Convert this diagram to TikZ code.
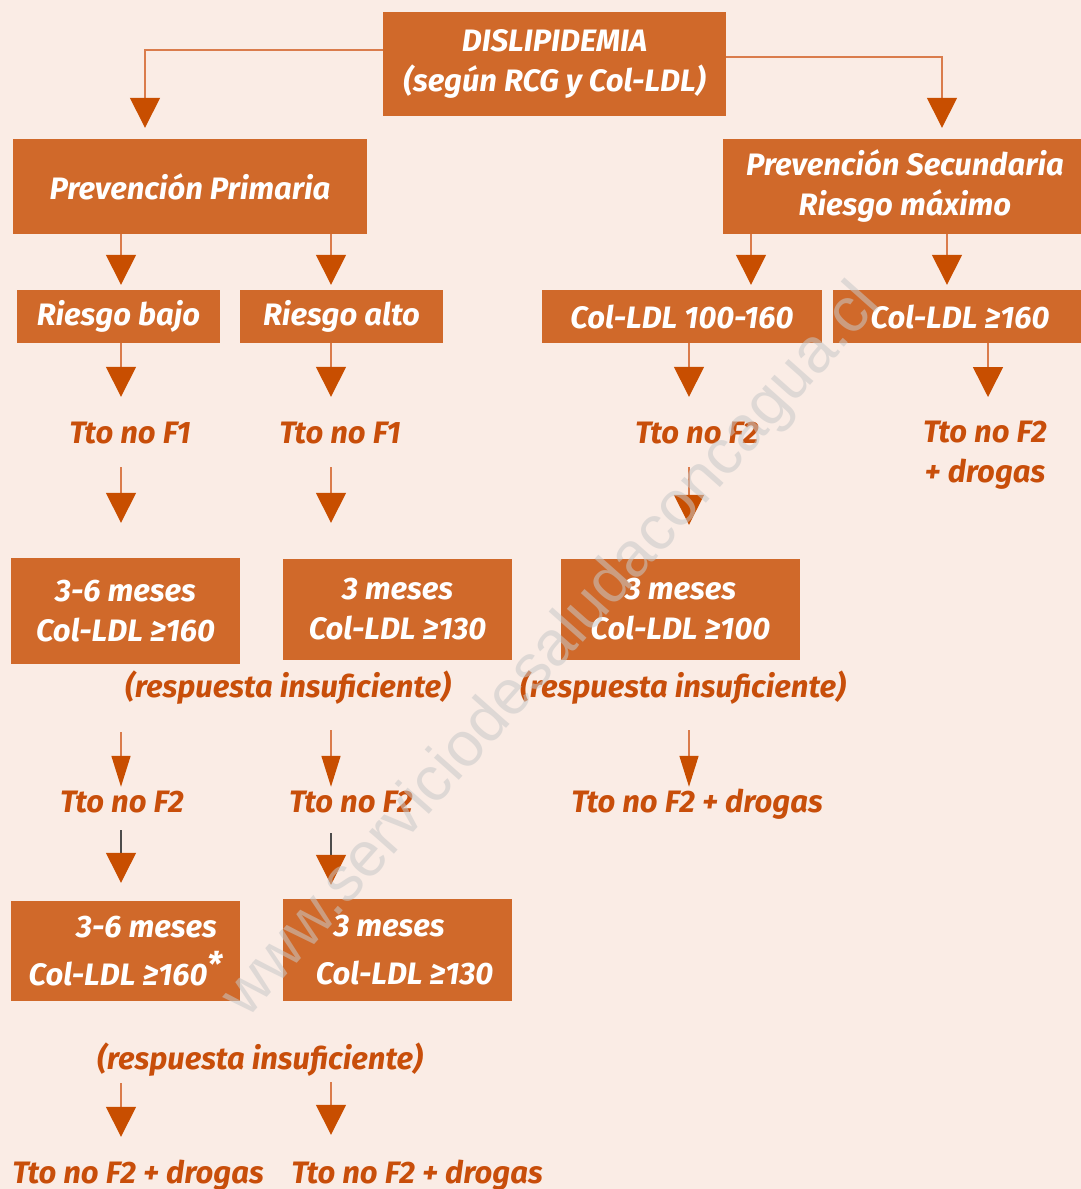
\documentclass[tikz,border=0pt]{standalone}
\usepackage{fontspec}
\setsansfont{Fira Sans}
\newfontfamily\marcafont{Liberation Sans}
\usepackage{xcolor}
\usetikzlibrary{arrows.meta}

\definecolor{fondo}{HTML}{FAECE5}
\definecolor{caja}{HTML}{D0692A}
\definecolor{naranja}{HTML}{C84E0A}
\definecolor{punta}{HTML}{C84E00}
\definecolor{linea}{HTML}{DA7C4C}
\definecolor{marca}{HTML}{C8C8C8}

\begin{document}
\begin{tikzpicture}[
		x=1pt, y=-1pt,
		every node/.style={font=\sffamily\bfseries\itshape\fontsize{31}{40}\selectfont},
		caja/.style={rectangle, fill=caja, text=white, align=center, inner sep=0pt},
		texto/.style={text=naranja, align=center, inner sep=0pt, text height=22pt, text depth=0pt, anchor=base},
		flecha/.style={draw=linea, line width=1.5pt, -{Triangle[width=30pt, length=30pt, color=punta]}},
		flechita/.style={flecha, -{Triangle[width=19pt, length=31pt, color=punta]}},
		oscura/.style={flecha, draw=black!70, line width=1.2pt}
		]
		
		% Background
		\fill[fondo] (0,0) rectangle (1081,1189);
		\useasboundingbox (0,0) rectangle (1081,1189);
		
		% Columns of the arrows
		\coordinate (xa) at (121,0);
		\coordinate (xb) at (331,0);
		\coordinate (xc) at (689,0);
		\coordinate (xd) at (751,0);
		\coordinate (xe) at (947,0);
		\coordinate (xf) at (988,0);
		\coordinate (xg) at (145,0);
		\coordinate (xh) at (942,0);
		
		% Boxes
		\node[caja, minimum width=343pt, minimum height=104pt] (dislip) at (554.5,64) {DISLIPIDEMIA\\(según RCG y Col-LDL)};
		\node[caja, minimum width=354pt, minimum height=95pt] (prim) at (190,186.5) {Prevención Primaria};
		\node[caja, minimum width=358pt, minimum height=95pt] (secu) at (902,186.5) {\hspace*{6pt}Prevención Secundaria\\\hspace*{6pt}Riesgo máximo};
		\node[caja, minimum width=203pt, minimum height=53pt] (bajo) at (118.5,316.5) {Riesgo bajo};
		\node[caja, minimum width=203pt, minimum height=53pt] (alto) at (341.5,316.5) {Riesgo alto};
		\node[caja, minimum width=280pt, minimum height=53pt] (cien) at (682,316.5) {Col-LDL 100-160};
		\node[caja, minimum width=254pt, minimum height=53pt] (maxi) at (960,316.5) {Col-LDL ≥160};
		\node[caja, minimum width=229pt, minimum height=106pt] (mesA) at (125.5,611) {3-6 meses\\Col-LDL ≥160};
		\node[caja, minimum width=229pt, minimum height=101pt] (mesB) at (397.5,609.5) {3 meses\\Col-LDL ≥130};
		\node[caja, minimum width=239pt, minimum height=101pt] (mesC) at (680.5,609.5) {3 meses\\Col-LDL ≥100};
		\node[caja, minimum width=229pt, minimum height=100pt] (mesD) at (125.5,951) {\hspace*{42pt}3-6 meses\\[8pt]Col-LDL ≥160\raisebox{9pt}{\fontsize{34}{34}\selectfont*}};
		\node[caja, minimum width=229pt, minimum height=102pt] (mesE) at (397.5,950) {3 meses\hspace*{17pt}\\[8pt]\hspace*{14pt}Col-LDL ≥130};
		
		% Treatments
		\node[texto] (tfa) at (130,443) {Tto no F1};
		\node[texto] (tfb) at (340,443) {Tto no F1};
		\node[texto] (tfc) at (697,443) {Tto no F2};
		\node[texto, anchor=north, text height=] (tfd) at (985,421) {Tto no F2\\+ drogas};
		\node[texto] (resA) at (288,697) {(respuesta insuficiente)};
		\node[texto] (resB) at (683,697) {(respuesta insuficiente)};
		\node[texto] (tfe) at (122,812) {Tto no F2};
		\node[texto] (tff) at (351,812) {Tto no F2};
		\node[texto] (tfg) at (697,812) {Tto no F2 + drogas};
		\node[texto] (resC) at (260,1069) {(respuesta insuficiente)};
		\node[texto] (tfh) at (138,1183) {Tto no F2 + drogas};
		\node[texto] (tfi) at (417,1183) {Tto no F2 + drogas};
		
		% Arrows
		\draw[flecha, shorten >=11pt] ([yshift=14pt]dislip.west) -| (xg |- prim.north);
		\draw[flecha, shorten >=11pt] ([yshift=7pt]dislip.east) -| (xh |- secu.north);
		\draw[flecha, shorten >=5pt] (xa |- prim.south) -- (xa |- bajo.north);
		\draw[flecha, shorten >=5pt] (xb |- prim.south) -- (xb |- alto.north);
		\draw[flecha, shorten >=5pt] (xd |- secu.south) -- (xd |- cien.north);
		\draw[flecha, shorten >=5pt] (xe |- secu.south) -- (xe |- maxi.north);
		\draw[flecha, shorten >=24pt] (xa |- bajo.south) -- (xa |- tfa.north);
		\draw[flecha, shorten >=24pt] (xb |- alto.south) -- (xb |- tfb.north);
		\draw[flecha, shorten >=24pt] (xc |- cien.south) -- (xc |- tfc.north);
		\draw[flecha, shorten >=24pt] (xf |- maxi.south) -- (xf |- tfd.north);
		\draw[flecha, shorten <=24pt, shorten >=35pt] (xa |- tfa.south) -- (xa |- mesA.north);
		\draw[flecha, shorten <=24pt, shorten >=36pt] (xb |- tfb.south) -- (xb |- mesB.north);
		\draw[flecha, shorten <=24pt, shorten >=34pt] (xc |- tfc.south) -- (xc |- mesC.north);
		\draw[flechita, shorten <=68pt, shorten >=3pt] (xa |- mesA.south) -- (xa |- tfe.north);
		\draw[flechita, shorten <=33pt, shorten >=3pt] (xb |- resA.south) -- (xb |- tff.north);
		\draw[flechita, shorten <=33pt, shorten >=3pt] (xc |- resB.south) -- (xc |- tfg.north);
		\draw[oscura, shorten <=18pt, shorten >=18pt] (xa |- tfe.south) -- (xa |- mesD.north);
		\draw[oscura, shorten <=21pt, shorten >=14pt] (xb |- tff.south) -- (xb |- mesE.north);
		\draw[flecha, shorten <=14pt, shorten >=24pt] (xa |- resC.south) -- (xa |- tfh.north);
		\draw[flecha, shorten <=13pt, shorten >=26pt] (xb |- resC.south) -- (xb |- tfi.north);
		
		% Watermark
		\node[font=\marcafont\fontsize{63}{63}\selectfont, text=marca, text opacity=0.55, anchor=base, rotate=48.4] (marca) at (565,662) {www.serviciodesaludaconcagua.cl};
		
	\end{tikzpicture}
\end{document}
